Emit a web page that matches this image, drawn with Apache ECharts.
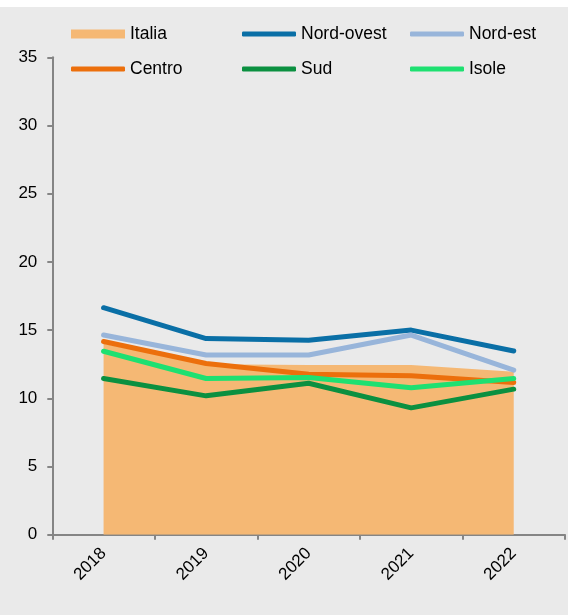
<!DOCTYPE html>
<html>
<head>
<meta charset="utf-8">
<script src="https://cdn.jsdelivr.net/npm/echarts@6/dist/echarts.min.js"></script>
<style>
html,body{margin:0;padding:0;background:#ffffff;}
#c{position:absolute;left:0;top:7px;width:568px;height:608px;}
</style>
</head>
<body>
<div id="c"></div>
<script>
const categories = ['2018', '2019', '2020', '2021', '2022'];
const italia = [14.0, 12.5, 12.45, 12.45, 11.95];
const nordOvest = [16.64, 14.38, 14.25, 15.0, 13.47];
const nordEst = [14.64, 13.18, 13.18, 14.64, 12.06];
const centro = [14.16, 12.55, 11.77, 11.65, 11.16];
const sud = [11.45, 10.18, 11.1, 9.3, 10.67];
const isole = [13.45, 11.45, 11.53, 10.77, 11.45];
const yTicks = { min: 0, max: 35, interval: 5 };

const font = "'Liberation Sans', Arial, sans-serif";
const chart = echarts.init(document.getElementById('c'));

function lineSeries(name, data, color) {
  return {
    name: name, type: 'line', data: data, symbol: 'none', showSymbol: false,
    itemStyle: { color: color },
    lineStyle: { color: color, width: 5, cap: 'round', join: 'round' },
    emphasis: { disabled: true }
  };
}

function legend(left, top, name, icon, h) {
  return {
    orient: 'horizontal', left: left, top: top, padding: 0,
    itemWidth: 54, itemHeight: h,
    textStyle: { fontFamily: font, fontSize: 17.5, color: '#000', lineHeight: 18 },
    data: [{ name: name, icon: icon }], selectedMode: false
  };
}

chart.setOption({
  backgroundColor: '#eaeaea',
  animation: false,
  textStyle: { fontFamily: font },
  legend: [
    legend(71, 18, 'Italia', 'rect', 9),
    legend(242, 18, 'Nord-ovest', 'roundRect', 5),
    legend(410, 18, 'Nord-est', 'roundRect', 5),
    legend(71, 53, 'Centro', 'roundRect', 5),
    legend(242, 53, 'Sud', 'roundRect', 5),
    legend(410, 53, 'Isole', 'roundRect', 5)
  ],
  grid: { left: 52.3, right: 3, top: 50.3, bottom: 80.3, containLabel: false },
  xAxis: {
    type: 'category', data: categories, boundaryGap: true,
    axisLine: { lineStyle: { color: '#858585', width: 2 } },
    axisTick: { show: true, length: 5, lineStyle: { color: '#858585', width: 2 } },
    axisLabel: { rotate: 45, margin: 16, fontSize: 17, color: '#000', fontFamily: font }
  },
  yAxis: {
    type: 'value', min: yTicks.min, max: yTicks.max, interval: yTicks.interval,
    splitLine: { show: false },
    axisLine: { show: true, lineStyle: { color: '#858585', width: 2 } },
    axisTick: { show: true, length: 5, lineStyle: { color: '#858585', width: 2 } },
    axisLabel: { margin: 15, fontSize: 17, color: '#000', fontFamily: font }
  },
  series: [
    {
      name: 'Italia', type: 'line', data: italia, symbol: 'none', showSymbol: false,
      itemStyle: { color: '#f5b874' },
      lineStyle: { width: 0, color: '#f5b874' },
      areaStyle: { color: '#f5b874', opacity: 1 },
      emphasis: { disabled: true }
    },
    lineSeries('Nord-ovest', nordOvest, '#0a6fa6'),
    lineSeries('Nord-est', nordEst, '#98b5da'),
    lineSeries('Centro', centro, '#ec6f0c'),
    lineSeries('Sud', sud, '#0b9040'),
    lineSeries('Isole', isole, '#1ee071')
  ]
});
</script>
</body>
</html>
